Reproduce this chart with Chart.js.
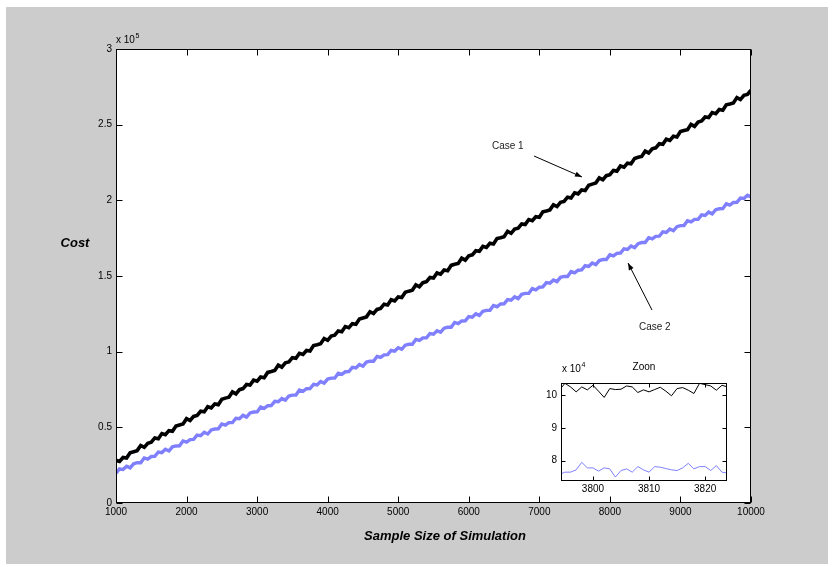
<!DOCTYPE html>
<html>
<head>
<meta charset="utf-8">
<script src="https://cdn.jsdelivr.net/npm/chart.js@4.4.1/dist/chart.umd.min.js"></script>
<style>
  html, body { margin:0; padding:0; background:#ffffff; }
  #wrap { position:relative; width:833px; height:567px; overflow:hidden; }
  #main { position:absolute; left:0; top:0; }
  #inset { position:absolute; left:520px; top:355px; }
</style>
</head>
<body>
<div id="wrap">
  <canvas id="main" width="833" height="567"></canvas>
  <canvas id="inset" width="215" height="140"></canvas>
</div>
<script>
// ---------- data (cost in units of 10^5) ----------
const sampleSize = [
  1000,1050,1100,1150,1200,1250,1300,1350,1400,1450,1500,1550,1600,1650,1700,1750,1800,1850,1900,1950,
  2000,2050,2100,2150,2200,2250,2300,2350,2400,2450,2500,2550,2600,2650,2700,2750,2800,2850,2900,2950,
  3000,3050,3100,3150,3200,3250,3300,3350,3400,3450,3500,3550,3600,3650,3700,3750,3800,3850,3900,3950,
  4000,4050,4100,4150,4200,4250,4300,4350,4400,4450,4500,4550,4600,4650,4700,4750,4800,4850,4900,4950,
  5000,5050,5100,5150,5200,5250,5300,5350,5400,5450,5500,5550,5600,5650,5700,5750,5800,5850,5900,5950,
  6000,6050,6100,6150,6200,6250,6300,6350,6400,6450,6500,6550,6600,6650,6700,6750,6800,6850,6900,6950,
  7000,7050,7100,7150,7200,7250,7300,7350,7400,7450,7500,7550,7600,7650,7700,7750,7800,7850,7900,7950,
  8000,8050,8100,8150,8200,8250,8300,8350,8400,8450,8500,8550,8600,8650,8700,8750,8800,8850,8900,8950,
  9000,9050,9100,9150,9200,9250,9300,9350,9400,9450,9500,9550,9600,9650,9700,9750,9800,9850,9900,9950,
  10000
];
const case1Cost = [
  0.282,0.275,0.301,0.297,0.332,0.339,0.346,0.380,0.368,0.395,0.402,0.430,0.425,0.459,0.451,0.478,0.474,0.509,0.516,0.522,
  0.557,0.545,0.572,0.579,0.606,0.602,0.636,0.628,0.655,0.650,0.686,0.693,0.699,0.734,0.721,0.749,0.756,0.783,0.779,0.812,
  0.805,0.832,0.827,0.863,0.869,0.876,0.911,0.898,0.926,0.932,0.960,0.956,0.989,0.982,1.008,1.004,1.040,1.046,1.053,1.087,
  1.075,1.103,1.109,1.137,1.132,1.166,1.159,1.185,1.181,1.216,1.223,1.230,1.264,1.252,1.279,1.286,1.314,1.309,1.343,1.335,
  1.362,1.358,1.393,1.400,1.406,1.441,1.429,1.456,1.463,1.490,1.486,1.520,1.512,1.539,1.534,1.570,1.577,1.583,1.618,1.605,
  1.633,1.640,1.667,1.663,1.696,1.689,1.716,1.711,1.747,1.753,1.760,1.795,1.782,1.810,1.816,1.844,1.840,1.873,1.866,1.892,
  1.888,1.924,1.930,1.937,1.971,1.959,1.987,1.993,2.021,2.016,2.050,2.043,2.069,2.065,2.100,2.107,2.114,2.148,2.136,2.163,
  2.170,2.198,2.193,2.227,2.219,2.246,2.242,2.277,2.284,2.290,2.325,2.313,2.340,2.347,2.374,2.370,2.404,2.396,2.423,2.418,
  2.454,2.461,2.467,2.502,2.489,2.517,2.524,2.551,2.547,2.580,2.573,2.600,2.595,2.631,2.637,2.644,2.679,2.666,2.694,2.700,
  2.728
];
const case2Cost = [
  0.197,0.225,0.221,0.243,0.232,0.259,0.266,0.266,0.298,0.290,0.307,0.308,0.337,0.333,0.355,0.344,0.371,0.377,0.378,0.410,
  0.402,0.419,0.420,0.449,0.445,0.467,0.456,0.483,0.489,0.490,0.522,0.514,0.531,0.532,0.560,0.557,0.579,0.568,0.595,0.601,
  0.602,0.634,0.626,0.643,0.644,0.672,0.669,0.691,0.680,0.707,0.713,0.713,0.746,0.738,0.755,0.756,0.784,0.780,0.803,0.792,
  0.819,0.825,0.825,0.858,0.850,0.867,0.868,0.896,0.892,0.915,0.904,0.931,0.937,0.937,0.969,0.962,0.979,0.980,1.008,1.004,
  1.026,1.016,1.043,1.049,1.049,1.081,1.074,1.091,1.092,1.120,1.116,1.138,1.128,1.155,1.161,1.161,1.193,1.185,1.203,1.204,
  1.232,1.228,1.250,1.240,1.267,1.273,1.273,1.305,1.297,1.315,1.316,1.344,1.340,1.362,1.351,1.379,1.385,1.385,1.417,1.409,
  1.426,1.428,1.456,1.452,1.474,1.463,1.491,1.497,1.497,1.529,1.521,1.538,1.540,1.568,1.564,1.586,1.575,1.602,1.609,1.609,
  1.641,1.633,1.650,1.652,1.680,1.676,1.698,1.687,1.714,1.721,1.721,1.753,1.745,1.762,1.763,1.792,1.788,1.810,1.799,1.826,
  1.833,1.833,1.865,1.857,1.874,1.875,1.904,1.900,1.922,1.911,1.938,1.944,1.945,1.977,1.969,1.986,1.987,2.015,2.012,2.034,
  2.023
];
const xTicks = [1000,2000,3000,4000,5000,6000,7000,8000,9000,10000];
const yTicks = [0,0.5,1,1.5,2,2.5,3];

// inset ("Zoon"), cost in units of 10^4
const insetSample = [
  3794,3795,3796,3797,3798,3799,3800,3801,3802,3803,
  3804,3805,3806,3807,3808,3809,3810,3811,3812,3813,
  3814,3815,3816,3817,3818,3819,3820,3821,3822,3823,3824
];
const insetCase1 = [
  10.15,10.36,10.25,10.10,10.25,10.16,10.30,10.12,9.93,10.20,
  10.17,10.18,10.28,10.25,10.08,10.16,10.10,10.17,10.24,10.12,
  9.98,10.20,10.23,10.15,10.05,10.36,10.32,10.28,10.15,10.30,10.25
];
const insetCase2 = [
  7.58,7.65,7.65,7.72,7.95,7.78,7.78,7.68,7.78,7.75,
  7.50,7.70,7.75,7.65,7.82,7.72,7.65,7.82,7.80,7.76,
  7.72,7.70,7.78,7.92,7.75,7.82,7.82,7.70,7.85,7.65,7.62
];
const insetXTicks = [3800,3810,3820];
const insetYTicks = [8,9,10];

// annotations (data coordinates)
const notes = [
  { text:'Case 1', at:[6329, 2.359], from:[6924, 2.293], to:[7605, 2.154] },
  { text:'Case 2', at:[8412, 1.163], from:[8597, 1.275], to:[8257, 1.586] }
];

// ---------- helpers ----------
const FONT = '"Liberation Sans", Arial, Helvetica, sans-serif';
const toPts = (xs, ys) => xs.map((x, i) => ({ x: x, y: ys[i] }));

function drawArrow(ctx, x1, y1, x2, y2) {
  ctx.beginPath();
  ctx.moveTo(x1, y1);
  ctx.lineTo(x2, y2);
  ctx.stroke();
  const ang = Math.atan2(y2 - y1, x2 - x1);
  const L = 7, W = 2.6;
  ctx.beginPath();
  ctx.moveTo(x2, y2);
  ctx.lineTo(x2 - L * Math.cos(ang) + W * Math.sin(ang), y2 - L * Math.sin(ang) - W * Math.cos(ang));
  ctx.lineTo(x2 - L * Math.cos(ang) - W * Math.sin(ang), y2 - L * Math.sin(ang) + W * Math.cos(ang));
  ctx.closePath();
  ctx.fill();
}

function drawBoxTicks(chart, len) {
  const ctx = chart.ctx, a = chart.chartArea;
  const xs = chart.scales.x, ys = chart.scales.y;
  const L = Math.round(a.left) + 0.5, R = Math.round(a.right) - 0.5;
  const T = Math.round(a.top) + 0.5, B = Math.round(a.bottom) - 0.5;
  ctx.save();
  ctx.strokeStyle = '#000';
  ctx.lineWidth = 1;
  ctx.strokeRect(L, T, R - L, B - T);
  ctx.beginPath();
  xs.ticks.forEach(t => {
    const p = Math.round(xs.getPixelForValue(t.value)) + 0.5;
    ctx.moveTo(p, B); ctx.lineTo(p, B - len);
    ctx.moveTo(p, T); ctx.lineTo(p, T + len);
  });
  ys.ticks.forEach(t => {
    const p = Math.round(ys.getPixelForValue(t.value)) + 0.5;
    ctx.moveTo(L, p); ctx.lineTo(L + len, p);
    ctx.moveTo(R, p); ctx.lineTo(R - len, p);
  });
  ctx.stroke();
  ctx.restore();
}

function drawExponent(ctx, x, y, base, exp) {
  ctx.save();
  ctx.fillStyle = '#000';
  ctx.textBaseline = 'alphabetic';
  ctx.textAlign = 'left';
  ctx.font = '10px ' + FONT;
  ctx.fillText(base, x, y);
  const w = ctx.measureText(base).width;
  ctx.font = '7px ' + FONT;
  ctx.fillText(exp, x + w + 0.5, y - 5);
  ctx.restore();
}

// ---------- main chart ----------
const mainDecor = {
  id: 'mainDecor',
  beforeDraw(chart) {
    const ctx = chart.ctx, a = chart.chartArea;
    ctx.save();
    ctx.fillStyle = '#ffffff';
    ctx.fillRect(0, 0, chart.width, chart.height);
    ctx.fillStyle = '#cccccc';
    ctx.fillRect(6, 7, 822, 557);
    ctx.fillStyle = '#ffffff';
    ctx.fillRect(a.left, a.top, a.right - a.left, a.bottom - a.top);
    ctx.restore();
  },
  afterDraw(chart) {
    const ctx = chart.ctx, a = chart.chartArea;
    const xs = chart.scales.x, ys = chart.scales.y;
    drawBoxTicks(chart, 6);
    drawExponent(ctx, a.left, a.top - 6, 'x 10', '5');
    ctx.save();
    ctx.fillStyle = '#000';
    ctx.font = 'italic bold 13px ' + FONT;
    ctx.textAlign = 'center';
    ctx.textBaseline = 'middle';
    ctx.fillText('Sample Size of Simulation', 445, 536);
    ctx.fillText('Cost', 75, 243);
    // annotations
    ctx.font = '10px ' + FONT;
    ctx.fillStyle = '#222';
    ctx.textAlign = 'left';
    notes.forEach(n => {
      ctx.fillText(n.text, xs.getPixelForValue(n.at[0]), ys.getPixelForValue(n.at[1]));
    });
    ctx.strokeStyle = '#000';
    ctx.fillStyle = '#000';
    ctx.lineWidth = 1;
    notes.forEach(n => {
      drawArrow(ctx,
        xs.getPixelForValue(n.from[0]), ys.getPixelForValue(n.from[1]),
        xs.getPixelForValue(n.to[0]), ys.getPixelForValue(n.to[1]));
    });
    ctx.restore();
  }
};

new Chart(document.getElementById('main'), {
  type: 'line',
  data: {
    datasets: [
      { label: 'Case 1', data: toPts(sampleSize, case1Cost), borderColor: '#000000', borderWidth: 3.6, pointRadius: 0, tension: 0 },
      { label: 'Case 2', data: toPts(sampleSize, case2Cost), borderColor: '#8080ff', borderWidth: 3.4, pointRadius: 0, tension: 0 }
    ]
  },
  options: {
    responsive: false,
    animation: false,
    devicePixelRatio: 1,
    layout: { padding: { left: 0, right: 82, top: 49, bottom: 0 } },
    plugins: { legend: { display: false }, tooltip: { enabled: false }, title: { display: false } },
    scales: {
      x: {
        type: 'linear', min: 1000, max: 10000,
        afterBuildTicks: s => { s.ticks = xTicks.map(v => ({ value: v })); },
        afterFit: s => { s.height = 64; },
        grid: { display: false, drawTicks: false },
        border: { display: false },
        ticks: { autoSkip: false, maxRotation: 0, padding: 3, color: '#000', font: { family: FONT, size: 10 }, callback: v => String(v) }
      },
      y: {
        type: 'linear', min: 0, max: 3,
        afterBuildTicks: s => { s.ticks = yTicks.map(v => ({ value: v })); },
        afterFit: s => { s.width = 116; },
        grid: { display: false, drawTicks: false },
        border: { display: false },
        ticks: { autoSkip: false, padding: 4, color: '#000', font: { family: FONT, size: 10 }, callback: v => String(v) }
      }
    }
  },
  plugins: [mainDecor]
});

// ---------- inset chart ----------
const insetDecor = {
  id: 'insetDecor',
  beforeDraw(chart) {
    const ctx = chart.ctx, a = chart.chartArea;
    ctx.save();
    ctx.fillStyle = '#ffffff';
    ctx.fillRect(a.left, a.top, a.right - a.left, a.bottom - a.top);
    ctx.restore();
  },
  afterDraw(chart) {
    const ctx = chart.ctx, a = chart.chartArea;
    drawBoxTicks(chart, 4);
    drawExponent(ctx, a.left + 1, a.top - 11, 'x 10', '4');
    ctx.save();
    ctx.fillStyle = '#000';
    ctx.font = '10px ' + FONT;
    ctx.textAlign = 'center';
    ctx.textBaseline = 'alphabetic';
    ctx.fillText('Zoon', (a.left + a.right) / 2, a.top - 13);
    ctx.restore();
  }
};

new Chart(document.getElementById('inset'), {
  type: 'line',
  data: {
    datasets: [
      { label: 'Case 1', data: toPts(insetSample, insetCase1), borderColor: '#000000', borderWidth: 1, pointRadius: 0, tension: 0 },
      { label: 'Case 2', data: toPts(insetSample, insetCase2), borderColor: '#8080ff', borderWidth: 1, pointRadius: 0, tension: 0 }
    ]
  },
  options: {
    responsive: false,
    animation: false,
    devicePixelRatio: 1,
    layout: { padding: { left: 0, right: 8, top: 28, bottom: 0 } },
    plugins: { legend: { display: false }, tooltip: { enabled: false }, title: { display: false } },
    scales: {
      x: {
        type: 'linear', min: 3794.3, max: 3823.9,
        afterBuildTicks: s => { s.ticks = insetXTicks.map(v => ({ value: v })); },
        afterFit: s => { s.height = 14; },
        grid: { display: false, drawTicks: false },
        border: { display: false },
        ticks: { autoSkip: false, maxRotation: 0, padding: 2, color: '#000', font: { family: FONT, size: 10 }, callback: v => String(v) }
      },
      y: {
        type: 'linear', min: 7.38, max: 10.37,
        afterBuildTicks: s => { s.ticks = insetYTicks.map(v => ({ value: v })); },
        afterFit: s => { s.width = 41; },
        grid: { display: false, drawTicks: false },
        border: { display: false },
        ticks: { autoSkip: false, padding: 4, color: '#000', font: { family: FONT, size: 10 }, callback: v => String(v) }
      }
    }
  },
  plugins: [insetDecor]
});
</script>
</body>
</html>
